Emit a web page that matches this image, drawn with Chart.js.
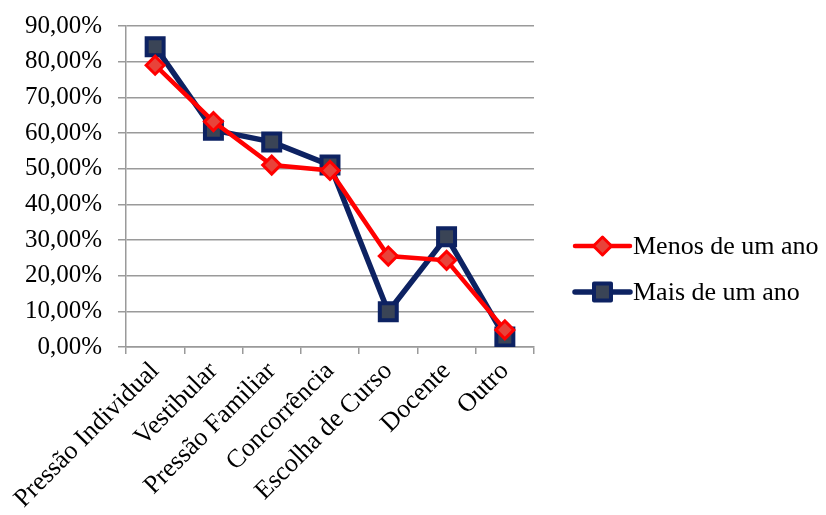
<!DOCTYPE html>
<html>
<head>
<meta charset="utf-8">
<script src="https://cdn.jsdelivr.net/npm/chart.js@4"></script>
<style>
    html, body { margin: 0; padding: 0; background: #fff; }
    #wrap { width: 826px; height: 515px; }
</style>
</head>
<body>
<div id="wrap"><canvas id="lineChart" width="826" height="515"></canvas></div>
<script>
const categories = ['Pressão Individual', 'Vestibular', 'Pressão Familiar', 'Concorrência', 'Escolha de Curso', 'Docente', 'Outro'];
const menosDeUmAno = [79.0, 63.2, 51.0, 49.5, 25.5, 24.3, 4.8];
const maisDeUmAno = [84.2, 60.8, 57.5, 51.0, 9.9, 30.9, 2.8];
const yTicks = [0, 10, 20, 30, 40, 50, 60, 70, 80, 90];

const serif = "'Liberation Serif', 'Times New Roman', Tinos, 'DejaVu Serif', serif";

// draws the legend on the right like the original (line with marker in the middle)
const sideLegend = {
    id: 'sideLegend',
    afterDraw(chart) {
        const ctx = chart.ctx;
        const x0 = 575, x1 = 630, rowY = [246, 292];
        chart.data.datasets.forEach(function (ds, i) {
            const y = rowY[i];
            const cx = (x0 + x1) / 2;
            ctx.save();
            ctx.strokeStyle = ds.borderColor;
            ctx.lineWidth = ds.borderWidth;
            ctx.lineCap = 'round';
            ctx.beginPath();
            ctx.moveTo(x0, y);
            ctx.lineTo(x1, y);
            ctx.stroke();
            ctx.fillStyle = ds.pointBackgroundColor;
            ctx.strokeStyle = ds.pointBorderColor;
            ctx.lineWidth = ds.pointBorderWidth;
            ctx.lineJoin = 'round';
            const r = ds.pointRadius;
            ctx.beginPath();
            if (ds.pointStyle === 'rectRot') {
                ctx.moveTo(cx, y - r);
                ctx.lineTo(cx + r, y);
                ctx.lineTo(cx, y + r);
                ctx.lineTo(cx - r, y);
                ctx.closePath();
            } else {
                const s = r * Math.SQRT1_2;
                ctx.rect(cx - s, y - s, s * 2, s * 2);
            }
            ctx.fill();
            ctx.stroke();
            ctx.fillStyle = '#000';
            ctx.font = '26px ' + serif;
            ctx.textBaseline = 'middle';
            ctx.fillText(ds.label, x1 + 3, y + 1);
            ctx.restore();
        });
    }
};

function drawChart() {
    const ctx = document.getElementById('lineChart').getContext('2d');
    new Chart(ctx, {
        type: 'line',
        data: {
            labels: categories,
            datasets: [
                {
                    label: 'Menos de um ano',
                    data: menosDeUmAno,
                    borderColor: '#ff0000',
                    borderWidth: 4.5,
                    pointStyle: 'rectRot',
                    pointRadius: 9,
                    pointBackgroundColor: '#e8433a',
                    pointBorderColor: '#ff0000',
                    pointBorderWidth: 3,
                    tension: 0
                },
                {
                    label: 'Mais de um ano',
                    data: maisDeUmAno,
                    borderColor: '#0d2262',
                    borderWidth: 5.5,
                    pointStyle: 'rect',
                    pointRadius: 12,
                    pointBackgroundColor: '#3a4456',
                    pointBorderColor: '#0d2262',
                    pointBorderWidth: 4,
                    tension: 0
                }
            ]
        },
        options: {
            responsive: false,
            animation: false,
            layout: { padding: { top: 26, right: 292, left: 0, bottom: 0 } },
            plugins: {
                legend: { display: false },
                tooltip: { enabled: false }
            },
            scales: {
                x: {
                    offset: true,
                    afterFit: function (scale) { scale.height = 168; },
                    grid: {
                        offset: true,
                        drawOnChartArea: false,
                        drawTicks: true,
                        tickLength: 7,
                        color: '#9a9a9a',
                        lineWidth: 1.5
                    },
                    border: { color: '#9a9a9a', width: 1.5 },
                    ticks: {
                        minRotation: 45,
                        maxRotation: 45,
                        color: '#000',
                        padding: 2,
                        font: { family: serif, size: 26 }
                    }
                },
                y: {
                    min: 0,
                    max: 90,
                    afterFit: function (scale) {
                        scale.width = 126;
                        scale.paddingTop = 0;
                        scale.paddingBottom = 0;
                    },
                    afterBuildTicks: function (scale) {
                        scale.ticks = yTicks.map(v => ({ value: v }));
                    },
                    grid: {
                        color: '#9a9a9a',
                        lineWidth: 1.5,
                        tickLength: 8
                    },
                    border: { color: '#9a9a9a', width: 1.5 },
                    ticks: {
                        color: '#000',
                        padding: 16,
                        font: { family: serif, size: 25 },
                        callback: function (value) {
                            return value.toFixed(2).replace('.', ',') + '%';
                        }
                    }
                }
            }
        },
        plugins: [sideLegend]
    });
}

document.fonts.load('22px "Liberation Serif"').then(drawChart, drawChart);
</script>
</body>
</html>
